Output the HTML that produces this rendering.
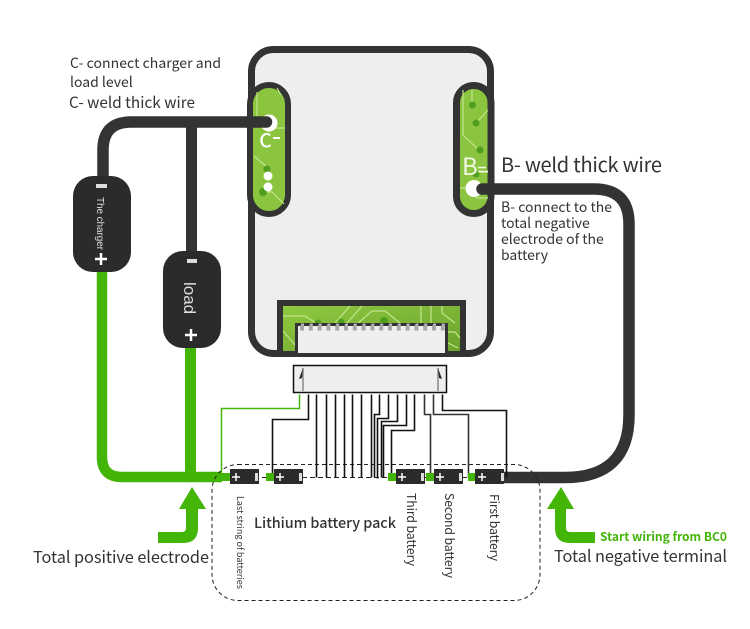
<!DOCTYPE html>
<html><head><meta charset="utf-8"><style>
html,body{margin:0;padding:0;background:#fff}
svg{display:block}
text{font-family:"Noto Sans CJK SC","Liberation Sans",sans-serif;fill:#333}
</style></head><body>
<svg width="750" height="629" viewBox="0 0 750 629" xmlns="http://www.w3.org/2000/svg">
<defs><linearGradient id="g" x1="0" y1="0" x2="1" y2="1"><stop offset="0" stop-color="#8fc940"/><stop offset="1" stop-color="#6ba32d"/></linearGradient></defs>
<rect width="750" height="629" fill="#fff"/>
<!-- board -->
<rect x="251.5" y="49.5" width="239" height="304" rx="22" fill="#eeeeee" stroke="#333" stroke-width="7"/>
<!-- connector notch -->
<rect x="277" y="300" width="189" height="57" fill="#333"/>
<rect x="283" y="306" width="177" height="45" fill="url(#g)"/>
<g fill="none" stroke="#c4e58c" stroke-width="1.200">
<path d="M283 316H305L316 323M283 331L296 346M335 323L350 306M347 323L362 306M358 323L372 311H385L400 323M421 306V323M431 306V323M442 306V313L455 323M446 332H455L460 338M446 342L458 348"/>
</g>
<circle cx="318" cy="323" r="3.500" fill="#4f9e1e"/><circle cx="341" cy="322" r="3.500" fill="#4f9e1e"/><circle cx="384" cy="321" r="4" fill="#4f9e1e"/>
<rect x="295" y="323" width="153" height="34" fill="#333"/>
<rect x="298" y="326" width="147" height="27" fill="#eeeeee"/>
<path d="M300 328H445" stroke="#a8a8a8" stroke-width="5" stroke-dasharray="4 4.800" fill="none"/>
<path d="M296 324.500H446" stroke="#eee" stroke-width="2" stroke-dasharray="3 5.800" stroke-dashoffset="-5" fill="none" opacity=".7"/>
<!-- left pad -->
<rect x="250" y="85" width="38" height="129" rx="19" fill="#8bc53f" stroke="#333" stroke-width="6"/>
<g fill="none" stroke="#c4e58c" stroke-width="1.200">
<path d="M257 92V118M277 88L281 95M254 156L268 168M262 192H272L284 204M275 128H285"/>
</g>
<circle cx="267" cy="169" r="3.500" fill="#4f9e1e"/><circle cx="263" cy="192" r="4" fill="#4f9e1e"/>
<circle cx="269" cy="123" r="8.500" fill="#fff"/>
<circle cx="268" cy="176" r="4.500" fill="#fff"/><circle cx="268" cy="187" r="4.500" fill="#fff"/>
<text x="259" y="147" font-size="25" style="fill:#fff">c</text>
<rect x="273" y="137" width="7" height="2" fill="#fff"/>
<!-- right pad -->
<rect x="456.500" y="85.500" width="34.500" height="128" rx="17" fill="#8bc53f" stroke="#333" stroke-width="7"/>
<g fill="none" stroke="#c4e58c" stroke-width="1.200">
<path d="M463 90V135L480 151M472 90V105M476 123L488 110M460 188H490M476 198H488M478 172H488"/>
</g>
<circle cx="472.500" cy="105" r="3.500" fill="#4f9e1e"/><circle cx="476" cy="123" r="3.500" fill="#4f9e1e"/><circle cx="480" cy="150" r="3.500" fill="#4f9e1e"/><circle cx="476" cy="174" r="3.500" fill="#4f9e1e"/>
<text x="462" y="175" font-size="24" style="fill:#f2f8e6">B</text>
<path d="M478 167.500H486M478 171.500H488" stroke="#f2f8e6" stroke-width="1.500"/>
<circle cx="474" cy="188.500" r="8.500" fill="#fff"/>
<!-- thick wires -->
<path d="M190.500 348V477" stroke="#42b507" stroke-width="11" fill="none"/>
<path d="M102 272V457Q102 477 122 477H222" stroke="#42b507" stroke-width="10.500" fill="none"/>
<path d="M103 178V150Q103 122 131 122H266.500" stroke="#333" stroke-width="11.500" fill="none" stroke-linecap="round"/>
<path d="M191.500 122V252" stroke="#333" stroke-width="11" fill="none"/>
<path d="M482 189H594Q629 189 629 224V415Q629 477.500 565 477.500H504" stroke="#333" stroke-width="11.500" fill="none" stroke-linecap="round"/>
<!-- pills -->
<rect x="73" y="176" width="58" height="96" rx="20" fill="#2b2b2b"/>
<rect x="163" y="251" width="58" height="97" rx="20" fill="#2b2b2b"/>
<rect x="96" y="184" width="11" height="4" fill="#ddd"/>
<path d="M101 253V265M95 259H107" stroke="#fff" stroke-width="2.500"/>
<rect x="187" y="259" width="10" height="4" fill="#ddd"/>
<path d="M191 329V341M185 335H197" stroke="#fff" stroke-width="2.500"/>
<text transform="translate(97,197) rotate(90)" font-size="10" style="fill:#ddd;font-family:'Liberation Sans',sans-serif" textLength="53">The charger</text>
<text transform="translate(184,282) rotate(90)" font-size="17" style="fill:#ddd;font-family:'Liberation Sans',sans-serif">load</text>
<!-- socket -->
<rect x="293.500" y="365.500" width="153" height="27" fill="#eee" stroke="#111" stroke-width="1.500"/>
<path d="M303 368V391M438 368V391" stroke="#888" stroke-width="1.500"/>
<path d="M303 368L299 379L302 378ZM438 368L442 379L439 378Z" fill="#222"/>
<!-- dashed box -->
<rect x="212" y="464.500" width="328" height="136" rx="26" fill="none" stroke="#222" stroke-width="1" stroke-dasharray="4 3"/>
<path d="M230 477.500H504" stroke="#222" stroke-width="1" stroke-dasharray="5 3" fill="none"/>
<!-- thin wires -->
<g transform="translate(.5,.5)">
<path d="M299 394V408H221V472" stroke="#42b507" stroke-width="1.500" fill="none"/>
<g fill="none" stroke="#111" stroke-width="1.600">
<path d="M308 394V419H272V477"/>
<path d="M316 394V477M326 394V477M335 394V477M344 394V477M352 394V477M361 394V477M371 394V477"/>
<path d="M379 394V414H374V477"/>
<path d="M388 394V418H377V478"/>
<path d="M397 394V421H381V477"/>
<path d="M406 394V425H383V477"/>
<path d="M414 394V430H391V477"/>
</g>
<g fill="none" stroke="#333" stroke-width="1.600">
<path d="M424 394V414H430V477"/>
<path d="M433 394V414H468V477"/>
</g>
<path d="M442 394V410H506V477" fill="none" stroke="#111" stroke-width="1.600"/>
</g>
<!-- batteries -->
<g fill="#42b507">
<rect x="220" y="473" width="10" height="8"/><rect x="266" y="473" width="8" height="8"/><rect x="388" y="473" width="8" height="8"/><rect x="426" y="473" width="8" height="8"/><rect x="468" y="473" width="8" height="8"/>
</g>
<g>
<rect x="230" y="469" width="29" height="15" fill="#2b2b2b"/><rect x="274" y="469" width="29" height="15" fill="#2b2b2b"/><rect x="396" y="469" width="29" height="15" fill="#2b2b2b"/><rect x="434" y="469" width="29" height="15" fill="#2b2b2b"/><rect x="475" y="469" width="29" height="15" fill="#2b2b2b"/>
</g>
<g stroke="#fff" stroke-width="1.500" fill="none">
<path d="M232 477H240M236 473V481M276 477H284M280 473V481M398 477H406M402 473V481M436 477H444M440 473V481M478 477H486M482 473V481"/>
</g>
<g fill="#ddd">
<rect x="255" y="473" width="3" height="8"/><rect x="299" y="473" width="3" height="8"/><rect x="421" y="473" width="3" height="8"/><rect x="459" y="473" width="3" height="8"/><rect x="501" y="473" width="3" height="8"/>
</g>
<!-- arrows -->
<path d="M192 487L206 509H198V528Q198 543 183 543H158V532H182Q186 532 186 528V509H179Z" fill="#42b507"/>
<path d="M561 487L574 509H566V528Q566 532 570 532H595V543H570Q555 543 555 528V509H547Z" fill="#42b507"/>
<!-- labels -->
<text x="70" y="68" font-size="14" textLength="151">C- connect charger and</text>
<text x="70" y="87" font-size="14">load level</text>
<text x="69" y="108" font-size="15.300" textLength="126">C- weld thick wire</text>
<text x="501" y="172" font-size="20" textLength="161">B- weld thick wire</text>
<text x="501" y="212" font-size="14" textLength="111">B- connect to the</text>
<text x="501" y="228" font-size="14">total negative</text>
<text x="501" y="244" font-size="14">electrode of the</text>
<text x="501" y="260" font-size="14">battery</text>
<text x="254" y="528" font-size="14.400" font-weight="500" textLength="142">Lithium battery pack</text>
<text x="33" y="563" font-size="16.300" textLength="176">Total positive electrode</text>
<text x="554" y="562" font-size="16.300" textLength="173">Total negative terminal</text>
<text x="600" y="541" font-size="12" font-weight="700" style="fill:#42b507" textLength="127">Start wiring from BC0</text>
<text transform="translate(237,496) rotate(90)" font-size="9" textLength="93">Last string of batteries</text>
<text transform="translate(407,493) rotate(90)" font-size="12.300" textLength="73">Third battery</text>
<text transform="translate(445,493) rotate(90)" font-size="12.300" textLength="85">Second battery</text>
<text transform="translate(490,494) rotate(90)" font-size="12.300" textLength="67">First battery</text>
</svg>
</body></html>
